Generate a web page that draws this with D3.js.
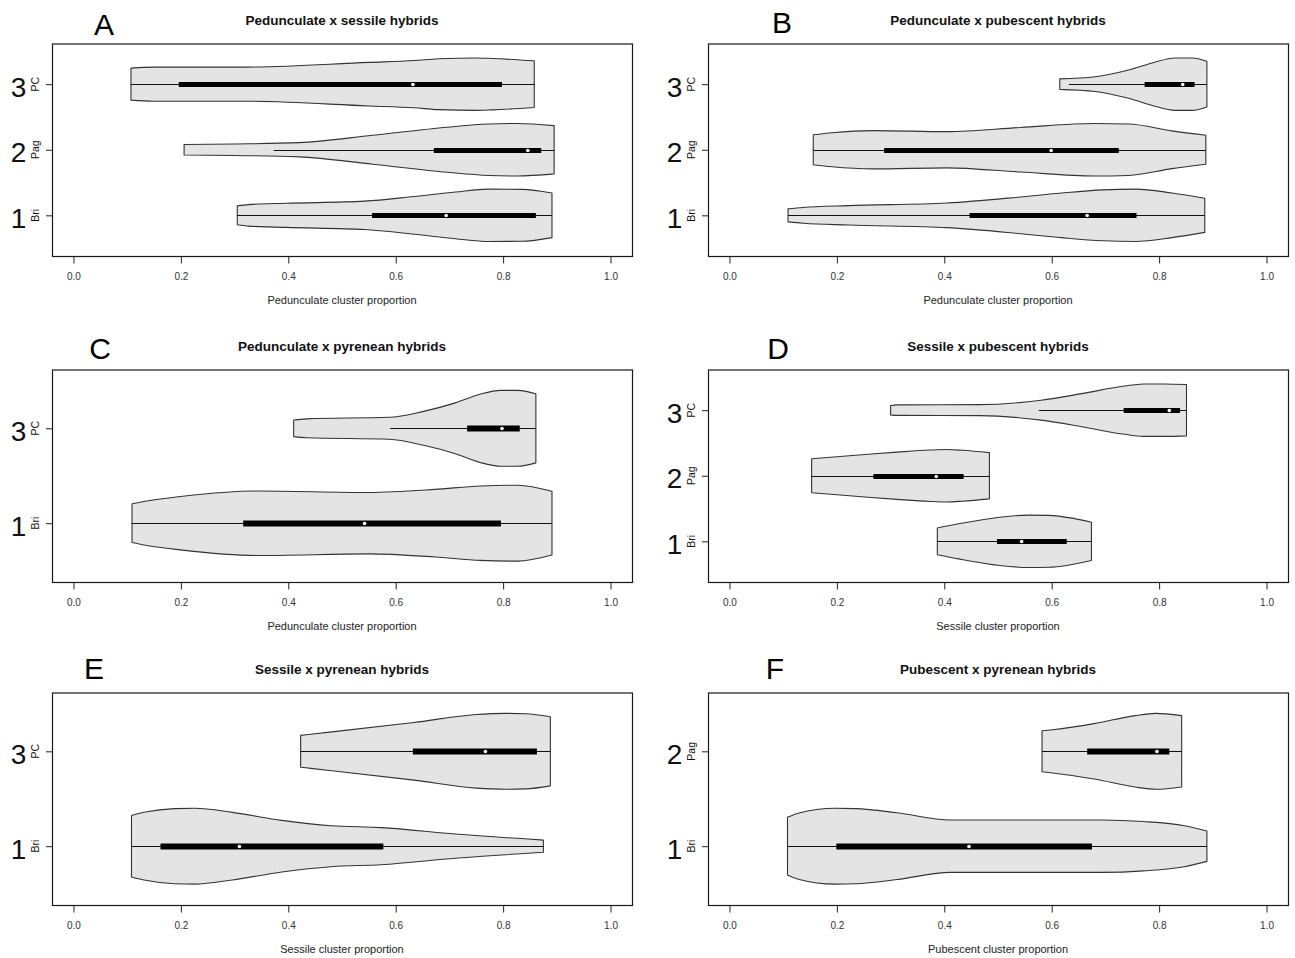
<!DOCTYPE html>
<html>
<head>
<meta charset="utf-8">
<script src="https://cdn.jsdelivr.net/npm/d3@7"></script>
<style>
  html, body { margin: 0; padding: 0; background: #fff; }
  svg { display: block; font-family: "Liberation Sans", Arial, sans-serif; }
</style>
</head>
<body>
<svg id="chart" width="1295" height="958"></svg>
<script>
// ---------------- data ----------------
const panelLetters = ["A", "B", "C", "D", "E", "F"];
const panelTitles = [
  "Pedunculate x sessile hybrids",
  "Pedunculate x pubescent hybrids",
  "Pedunculate x pyrenean hybrids",
  "Sessile x pubescent hybrids",
  "Sessile x pyrenean hybrids",
  "Pubescent x pyrenean hybrids"
];
const xAxisTitles = [
  "Pedunculate cluster proportion",
  "Pedunculate cluster proportion",
  "Pedunculate cluster proportion",
  "Sessile cluster proportion",
  "Sessile cluster proportion",
  "Pubescent cluster proportion"
];
const groupNumbers = [["1","2","3"],["1","2","3"],["1","3"],["1","2","3"],["1","3"],["1","2"]];
const groupNames   = [["Bri","Pag","PC"],["Bri","Pag","PC"],["Bri","PC"],["Bri","Pag","PC"],["Bri","PC"],["Bri","Pag"]];
const xTicks = [0, 0.2, 0.4, 0.6, 0.8, 1.0];

// box statistics per violin: [whisker low, Q1, median, Q3, whisker high]
const boxStatsA = [[0.305,0.556,0.694,0.861,0.891],[0.373,0.671,0.846,0.871,0.895],[0.107,0.196,0.632,0.798,0.858]];
const boxStatsB = [[0.109,0.447,0.666,0.758,0.885],[0.156,0.288,0.599,0.725,0.887],[0.632,0.773,0.844,0.866,0.889]];
const boxStatsC = [[0.109,0.316,0.542,0.796,0.891],[0.590,0.733,0.798,0.831,0.861]];
const boxStatsD = [[0.387,0.498,0.544,0.628,0.674],[0.153,0.268,0.385,0.436,0.484],[0.576,0.734,0.819,0.839,0.851]];
const boxStatsE = [[0.108,0.162,0.309,0.577,0.875],[0.423,0.632,0.767,0.863,0.888]];
const boxStatsF = [[0.108,0.199,0.446,0.675,0.889],[0.582,0.666,0.796,0.819,0.842]];

// violin outlines: [proportion, relative density half-width]
const densityA = [
  [[0.305,0.36],[0.326,0.41],[0.396,0.46],[0.542,0.54],[0.634,0.72],[0.711,0.89],[0.773,1.0],[0.835,0.99],[0.891,0.85]],
  [[0.206,0.20],[0.30,0.22],[0.42,0.27],[0.557,0.55],[0.696,0.86],[0.773,0.98],[0.826,1.0],[0.895,0.92]],
  [[0.107,0.61],[0.149,0.65],[0.319,0.65],[0.55,0.83],[0.634,0.90],[0.68,0.97],[0.75,1.0],[0.78,0.98],[0.858,0.89]]
];
const densityB = [
  [[0.109,0.25],[0.137,0.30],[0.221,0.37],[0.405,0.47],[0.542,0.70],[0.618,0.85],[0.695,0.97],[0.756,1.0],[0.824,0.85],[0.885,0.65]],
  [[0.156,0.57],[0.191,0.65],[0.267,0.73],[0.405,0.69],[0.542,0.85],[0.679,1.0],[0.743,0.98],[0.824,0.72],[0.887,0.55]],
  [[0.615,0.20],[0.681,0.28],[0.743,0.54],[0.787,0.81],[0.83,1.0],[0.862,1.0],[0.889,0.87]]
];
const densityC = [
  [[0.109,0.51],[0.126,0.56],[0.203,0.71],[0.342,0.85],[0.55,0.81],[0.673,0.89],[0.758,0.98],[0.827,1.0],[0.891,0.84]],
  [[0.410,0.22],[0.434,0.25],[0.588,0.29],[0.650,0.44],[0.711,0.67],[0.757,0.90],[0.796,1.0],[0.827,1.0],[0.861,0.91]]
];
const densityD = [
  [[0.387,0.51],[0.427,0.67],[0.503,0.92],[0.557,1.0],[0.595,0.99],[0.674,0.73]],
  [[0.153,0.65],[0.235,0.78],[0.312,0.90],[0.373,0.98],[0.404,1.0],[0.434,0.97],[0.484,0.88]],
  [[0.300,0.18],[0.312,0.20],[0.465,0.21],[0.580,0.38],[0.656,0.63],[0.732,0.91],[0.771,1.0],[0.809,1.0],[0.851,0.98]]
];
const densityE = [
  [[0.108,0.81],[0.134,0.90],[0.188,0.99],[0.226,1.0],[0.296,0.89],[0.388,0.68],[0.480,0.54],[0.573,0.49],[0.711,0.32],[0.875,0.16]],
  [[0.423,0.42],[0.442,0.45],[0.634,0.76],[0.750,0.97],[0.804,1.0],[0.842,0.99],[0.888,0.91]]
];
const densityF = [
  [[0.108,0.76],[0.128,0.87],[0.197,1.0],[0.235,0.99],[0.312,0.88],[0.411,0.69],[0.541,0.69],[0.694,0.69],[0.771,0.65],[0.847,0.54],[0.889,0.40]],
  [[0.582,0.54],[0.602,0.57],[0.679,0.73],[0.755,0.94],[0.794,1.0],[0.842,0.94]]
];

const allBoxStats = [boxStatsA, boxStatsB, boxStatsC, boxStatsD, boxStatsE, boxStatsF];
const allDensities = [densityA, densityB, densityC, densityD, densityE, densityF];

// ---------------- layout ----------------
const colLeft = [52, 708];
const rowTop = [43.5, 369.5, 692.5];
const boxW = 580, boxH = 212.5;
// panel letter positions relative to box (center x offset, baseline offset from top)
const letterPos = [[52, -8.5], [74, -10.5], [48, -10.5], [70, -10.5], [42, -13.5], [67, -13.5]];

const svg = d3.select("#chart");
const maxHalf = 0.4; // in category units

panelLetters.forEach((letter, p) => {
  const col = p % 2, row = Math.floor(p / 2);
  const left = colLeft[col], top = rowTop[row];
  const right = left + boxW, bottom = top + boxH;
  const n = groupNumbers[p].length;

  const x = d3.scaleLinear().domain([-0.04, 1.04]).range([left, right]);
  const y = d3.scaleLinear().domain([0.38, n + 0.62]).range([bottom, top]);

  const g = svg.append("g");

  // violins
  allDensities[p].forEach((dens, i) => {
    const pos = i + 1;
    const area = d3.area()
      .x(d => x(d[0]))
      .y0(d => y(pos - d[1] * maxHalf))
      .y1(d => y(pos + d[1] * maxHalf))
      .curve(d3.curveMonotoneX);
    g.append("path")
      .attr("d", area(dens) + "Z")
      .attr("fill", "#e4e4e4")
      .attr("stroke", "#333")
      .attr("stroke-width", 1.1)
      .attr("stroke-linejoin", "round");

    const s = allBoxStats[p][i];
    const cy = Math.round(y(pos)) + 0.5;
    g.append("line")
      .attr("x1", x(s[0])).attr("x2", x(s[4]))
      .attr("y1", cy).attr("y2", cy)
      .attr("stroke", "#111").attr("stroke-width", 1);
    g.append("line")
      .attr("x1", x(s[1])).attr("x2", x(s[3]))
      .attr("y1", cy).attr("y2", cy)
      .attr("stroke", "#000").attr("stroke-width", n === 3 ? 5 : 6);
    g.append("circle")
      .attr("cx", x(s[2])).attr("cy", cy).attr("r", 1.8)
      .attr("fill", "#fff");
  });

  // frame
  g.append("rect")
    .attr("x", left + 0.5).attr("y", top + 0.5)
    .attr("width", boxW).attr("height", boxH)
    .attr("fill", "none").attr("stroke", "#1a1a1a").attr("stroke-width", 1.2);

  // x axis
  const xAxis = d3.axisBottom(x)
    .tickValues(xTicks)
    .tickFormat(d3.format(".1f"))
    .tickSize(7)
    .tickPadding(9.4);
  const xa = g.append("g").attr("transform", `translate(0,${bottom + 0.5})`).call(xAxis);
  xa.select(".domain").remove();
  xa.selectAll(".tick line").attr("stroke", "#222");
  xa.selectAll(".tick text")
    .attr("font-family", "Liberation Sans, Arial, sans-serif")
    .attr("font-size", 10).attr("fill", "#333");

  // y axis
  const positions = d3.range(1, n + 1);
  const yAxis = d3.axisLeft(y).tickValues(positions).tickFormat("").tickSize(6.5);
  const ya = g.append("g").attr("transform", `translate(${left + 0.5},0)`).call(yAxis);
  ya.select(".domain").remove();
  ya.selectAll(".tick line").attr("stroke", "#222");

  positions.forEach((pos, i) => {
    const cy = y(pos);
    g.append("text")
      .attr("x", left - 33.5).attr("y", cy + 12.5)
      .attr("text-anchor", "middle")
      .attr("font-size", 28).attr("fill", "#111")
      .text(groupNumbers[p][i]);
    g.append("text")
      .attr("transform", `translate(${left - 17},${cy}) rotate(-90)`)
      .attr("text-anchor", "middle")
      .attr("dy", "0.35em")
      .attr("font-size", 10.5).attr("fill", "#111")
      .text(groupNames[p][i]);
  });

  // title
  g.append("text")
    .attr("x", (left + right) / 2).attr("y", top - 19)
    .attr("text-anchor", "middle")
    .attr("font-size", 13.5).attr("font-weight", "bold").attr("fill", "#111")
    .text(panelTitles[p]);

  // x axis title
  g.append("text")
    .attr("x", (left + right) / 2).attr("y", bottom + 47.5)
    .attr("text-anchor", "middle")
    .attr("font-size", 11).attr("fill", "#222")
    .text(xAxisTitles[p]);

  // panel letter
  g.append("text")
    .attr("x", left + letterPos[p][0]).attr("y", top + letterPos[p][1])
    .attr("text-anchor", "middle")
    .attr("font-size", 30).attr("fill", "#000")
    .text(letter);
});
</script>
</body>
</html>
